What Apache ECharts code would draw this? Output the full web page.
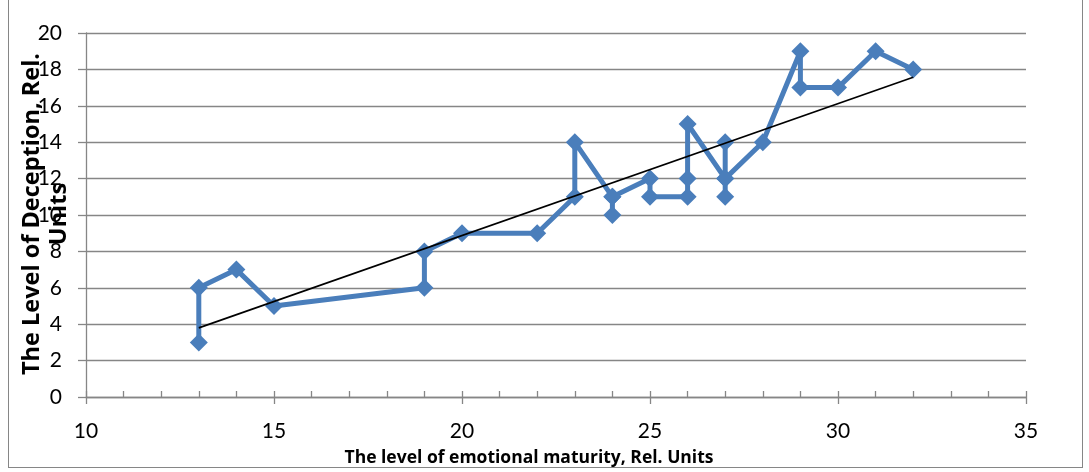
<!DOCTYPE html>
<html><head><meta charset="utf-8">
<script src="https://cdn.jsdelivr.net/npm/echarts@6/dist/echarts.min.js"></script>
<style>
html,body{margin:0;padding:0;background:#fff;}
#frame{position:absolute;left:8px;top:-2px;width:1075px;height:470px;border:1px solid #868686;box-sizing:border-box;}
#chart{position:absolute;left:0;top:0;width:1089px;height:472px;}
</style></head>
<body>
<div id="frame"></div>
<div id="chart"></div>
<script>
// ---- data ----
const xValues = [13,13,14,15,19,19,20,22,23,23,24,24,24,25,25,26,26,26,27,27,27,27,28,29,29,30,31,32];
const yValues = [3,6,7,5,6,8,9,9,11,14,11,10,11,12,11,11,12,15,12,11,14,12,14,19,17,17,19,18];
const xTicks = [10,15,20,25,30,35];
const yTicks = [0,2,4,6,8,10,12,14,16,18,20];
const xTitle = 'The level of emotional maturity, Rel. Units';
const yTitle = 'The Level of Deception, Rel.\nUnits';

// series points
const points = xValues.map((x,i)=>[x,yValues[i]]);
// linear trendline (least squares over distinct observations)
const seen = new Set(); const uniq = [];
points.forEach(p=>{const k=p.join(','); if(!seen.has(k)){seen.add(k);uniq.push(p);}});
const n = uniq.length;
const mx = uniq.reduce((s,p)=>s+p[0],0)/n, my = uniq.reduce((s,p)=>s+p[1],0)/n;
let sxy=0,sxx=0; uniq.forEach(p=>{sxy+=(p[0]-mx)*(p[1]-my);sxx+=(p[0]-mx)*(p[0]-mx);});
const slope = sxy/sxx, icpt = my - slope*mx;
const xmin = Math.min(...xValues), xmax = Math.max(...xValues);
const trend = [[xmin, icpt+slope*xmin],[xmax, icpt+slope*xmax]];

const axisGray = '#868686';
const numFont = 'Lato, sans-serif';
const titleFont = '"Open Sans", sans-serif';
const chart = echarts.init(document.getElementById('chart'), null, {renderer:'canvas'});
chart.setOption({
  animation:false,
  grid:{left:86,right:63,top:33,bottom:75,containLabel:false},
  xAxis:[{
    type:'value', min:xTicks[0], max:xTicks[xTicks.length-1], interval:xTicks[1]-xTicks[0],
    axisLine:{show:true,lineStyle:{color:axisGray,width:1.3}},
    axisTick:{show:true,inside:false,length:7,lineStyle:{color:axisGray,width:1.3}},
    axisLabel:{color:'#000',fontSize:21,fontFamily:numFont,margin:24},
    splitLine:{show:false}
  },{
    type:'value', position:'bottom', min:xTicks[0], max:xTicks[xTicks.length-1], interval:1,
    axisLine:{show:false},
    axisTick:{show:true,inside:true,length:6,lineStyle:{color:axisGray,width:1.3}},
    axisLabel:{show:false}, splitLine:{show:false}
  }],
  yAxis:{
    type:'value', min:yTicks[0], max:yTicks[yTicks.length-1], interval:yTicks[1]-yTicks[0],
    axisLine:{show:true,lineStyle:{color:axisGray,width:1.3}},
    axisTick:{show:true,inside:false,length:8,lineStyle:{color:axisGray,width:1.3}},
    axisLabel:{color:'#000',fontSize:21,fontFamily:numFont,margin:24},
    splitLine:{show:true,lineStyle:{color:axisGray,width:1.3}}
  },
  series:[{
    type:'line', data:points, xAxisIndex:0,
    lineStyle:{color:'#4A7EBB',width:5,join:'round'},
    itemStyle:{color:'#4A7EBB'},
    symbol:'diamond', symbolSize:[18,18], showSymbol:true, z:2
  },{
    type:'line', data:trend, xAxisIndex:0,
    lineStyle:{color:'#000',width:1.6}, symbol:'none', z:3, silent:true
  }],
  graphic:[{
    type:'text', x:529, y:458,
    style:{text:xTitle, font:'bold 17.5px '+titleFont, fill:'#000', textAlign:'center', textVerticalAlign:'middle'}
  },{
    type:'text', x:46, y:214, rotation:Math.PI/2,
    style:{text:yTitle, font:'bold 23.5px '+titleFont, fill:'#000', textAlign:'center', textVerticalAlign:'middle', lineHeight:27}
  }]
});
</script>
</body></html>
